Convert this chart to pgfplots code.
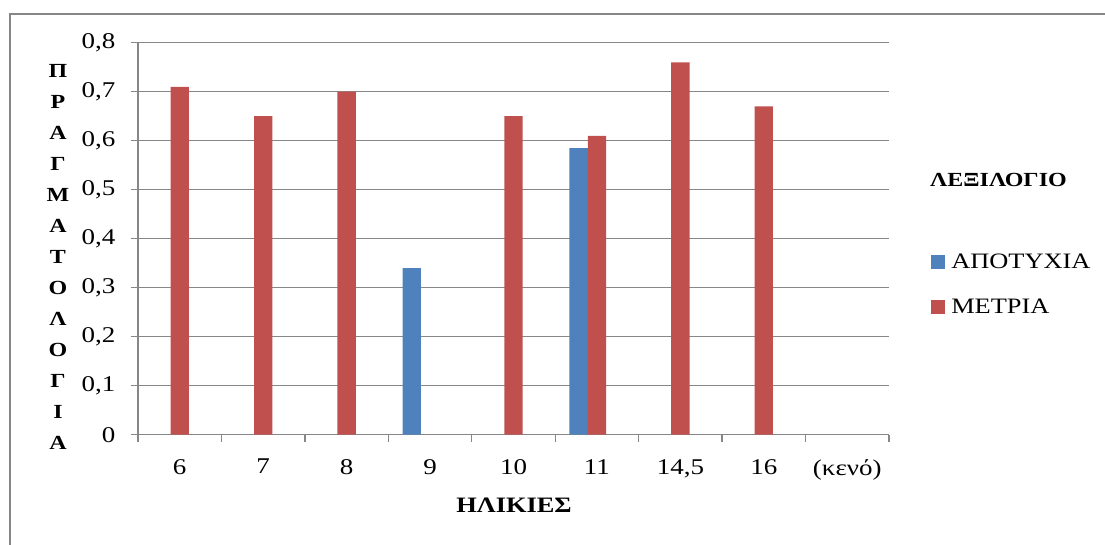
\documentclass[border=0pt]{standalone}
\usepackage{fontspec}
\setmainfont{Liberation Serif}[FakeStretch=1.2]
\usepackage{pgfplots}
\pgfplotsset{compat=1.18}
\definecolor{barblue}{HTML}{4F81BD}
\definecolor{barred}{HTML}{C0504D}
\definecolor{gridgray}{HTML}{878787}

\begin{document}
\begin{tikzpicture}[x=1pt,y=1pt]
\begin{axis}[
  scale only axis,
  width=751pt, height=392pt,
  ymin=0, ymax=0.8,
  ytick={0,0.1,0.2,0.3,0.4,0.5,0.6,0.7,0.8},
  xmin=-0.5, xmax=8.5,
  xtick={-0.5,0.5,1.5,2.5,3.5,4.5,5.5,6.5,7.5,8.5},
  x tick label as interval,
  xticklabels={6,7,8,9,10,11,{14,5},16,(κενό)},
  axis x line=bottom, axis y line=left,
  axis line style={draw=gridgray, line width=1.3pt, -},
  tick align=outside, major tick length=7pt,
  tick style={draw=gridgray, line width=1.3pt},
  ymajorgrids, grid style={draw=gridgray, line width=1.3pt},
  tick label style={font=\fontsize{22.5}{26}\selectfont},
  yticklabel style={xshift=-12pt},
  xticklabel style={yshift=-14pt},
  /pgf/number format/.cd, use comma, fixed, precision=1, assume math mode=true,
  /pgfplots/.cd,
  legend style={at={(axis description cs:1.056,0.3844)}, anchor=west,
    draw=none, fill=none, inner sep=0pt, row sep=25pt,
    font=\fontsize{22}{26}\selectfont},
  legend cell align=left,
]
\coordinate (O) at (axis cs:-0.5,0);
\addplot[ybar, bar width=18.3pt, bar shift=-18.3pt, fill=barblue, draw=none,
  legend image code/.code={\fill[barblue] (0pt,-7pt) rectangle (14pt,7pt); \path (18pt,0pt);}]
  coordinates {(3,0.34) (5,0.585)};
\addlegendentry{ΑΠΟΤΥΧΙΑ}
\addplot[ybar, bar width=18.3pt, bar shift=0pt, fill=barred, draw=none,
  legend image code/.code={\fill[barred] (0pt,-7pt) rectangle (14pt,7pt); \path (18pt,0pt);}]
  coordinates {(0,0.71) (1,0.65) (2,0.70) (4,0.65) (5,0.61) (6,0.76) (7,0.67)};
\addlegendentry{ΜΕΤΡΙΑ}
\end{axis}
\begin{scope}[shift={(O)}]
% outer chart frame (top and left edges)
\draw[gridgray, line width=1.5pt] (-128,-112) -- (-128,420.7) -- (970,420.7);
% legend heading
\node[anchor=west, inner sep=0pt, font=\fontsize{20}{24}\selectfont\bfseries] at (792,254.7) {ΛΕΞΙΛΟΓΙΟ};
% axis titles
\node[inner sep=0pt, font=\fontsize{22}{26}\selectfont\bfseries] at (376,-70.8) {ΗΛΙΚΙΕΣ};
\node[align=center, inner sep=0pt, font=\fontsize{20}{31}\selectfont\bfseries] at (-80,177.7) {Π\\Ρ\\Α\\Γ\\Μ\\Α\\Τ\\Ο\\Λ\\Ο\\Γ\\Ι\\Α};
\end{scope}
\pgfresetboundingbox
\path[shift={(O)}] (-138,-109.3) rectangle (967,434.7);
\end{tikzpicture}
\end{document}
